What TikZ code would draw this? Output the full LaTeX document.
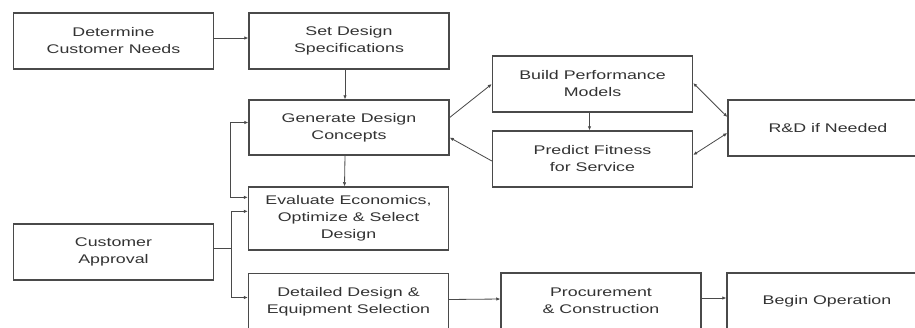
\documentclass[tikz,border=0pt]{standalone}
\usepackage{fontspec}
\setmainfont{Liberation Sans}[FakeStretch=1.42]
\usepackage{tikz}
\usetikzlibrary{arrows.meta,calc}
\definecolor{boxline}{HTML}{4A4A4A}
\definecolor{boxtext}{HTML}{333333}
\tikzset{procbox/.style={draw=boxline,line width=1.1pt,rectangle,align=center,
    minimum width=6cm,minimum height=1.68cm,inner sep=2pt,text=boxtext,
    font=\fontsize{10.7pt}{14.5pt}\selectfont},
  link/.style={draw=boxline,line width=0.7pt}}

\begin{document}
\begin{tikzpicture}[x=0.03cm,y=-0.03cm,>={Latex[length=3.5pt,width=3pt]}]
    \useasboundingbox (0,0) rectangle (915,327);
    \clip (0,0) rectangle (915,327);
    \fill[white] (0,0) rectangle (915,327);

    % top row and design loop
    \node[procbox] (det) at (113.5,41) {Determine\\Customer Needs};
    \node[procbox] (spec) at (349,41) {Set Design\\Specifications};
    \node[procbox,minimum height=1.65cm] (gen) at (349,127.5) {Generate Design\\Concepts};
    \node[procbox] (build) at (592.5,84) {Build Performance\\Models};
    \node[procbox] (pred) at (592.5,159) {Predict Fitness\\for Service};
    \node[procbox] (rd) at (828,128) {R\&D if Needed};

    % lower part
    \node[procbox,minimum height=1.89cm] (eval) at (348.5,218.5) {Evaluate Economics,\\Optimize \& Select\\Design};
    \node[procbox] (appr) at (113.5,252) {Customer\\Approval};
    \node[procbox] (detl) at (348.5,301.5) {Detailed Design \&\\Equipment Selection};
    \node[procbox] (proc) at (601,301) {Procurement\\\& Construction};
    \node[procbox] (oper) at (827,301) {Begin Operation};

    \draw[link,->] ($(det.east)+(0,-3)$) -- ($(spec.west)+(0,-3)$);
    \draw[link,->] ($(spec.south)+(-4,0)$) -- ($(gen.north)+(-4,0)$);
    \draw[link,->] ($(gen.south)+(-4,0)$) -- ($(eval.north)+(-4,0)$);
    \draw[link,<->] ($(gen.west)+(0,-5)$) -- ++(-18,0) |- ($(eval.north west)+(0,11)$);

    \draw[link] ($(appr.east)+(0,-4)$) -- ++(17,0) coordinate (split);
    \draw[link,->] (split) |- ($(eval.north west)+(0,25)$);
    \draw[link,->] (split) |- ($(detl.west)+(0,-4)$);

    \draw[link,->] ($(gen.east)+(0,-10)$) -- (build.west);
    \draw[link,->] ($(pred.west)+(0,2)$) -- ($(gen.east)+(0,10)$);
    \draw[link,->] ($(build.south)+(-3,0)$) -- ($(pred.north)+(-3,0)$);
    \draw[link,<->] ($(build.east)+(0,-1)$) -- ($(rd.west)+(0,-11)$);
    \draw[link,<->] ($(pred.east)+(0,-4)$) -- ($(rd.west)+(0,5)$);

    \draw[link,->] ($(detl.east)+(0,-2)$) -- ($(proc.west)+(0,-2)$);
    \draw[link,->] ($(proc.east)+(0,-3)$) -- ($(oper.west)+(0,-3)$);
  \end{tikzpicture}
\end{document}
